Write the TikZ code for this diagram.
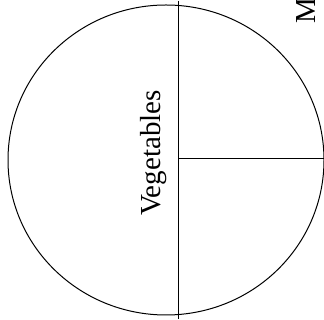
\documentclass[tikz,border=0pt]{standalone}
\usepackage{fontspec}
\setmainfont{Liberation Serif}
\begin{document}
\begin{tikzpicture}[x=1pt,y=1pt]
  \useasboundingbox (0,0) rectangle (324,320);
  \clip (0,0) rectangle (324,320);
  \draw[line width=1pt] (166,160) ellipse [x radius=158,y radius=155];
  \coordinate (top) at (178,319);
  \coordinate (bot) at (178,1);
  \coordinate (mid) at (178,161);
  \coordinate (rim) at (330,161);
  \draw[line width=1pt] (top) -- (bot);
  \draw[line width=1pt] (mid) -- (rim);
  \node[rotate=90,font=\fontsize{29}{34}\selectfont] (veg) at (154,167) {Vegetables};
  \node[rotate=90,anchor=base west,inner sep=0,font=\fontsize{29}{34}\selectfont] (meat) at (315,296) {M};
\end{tikzpicture}
\end{document}
